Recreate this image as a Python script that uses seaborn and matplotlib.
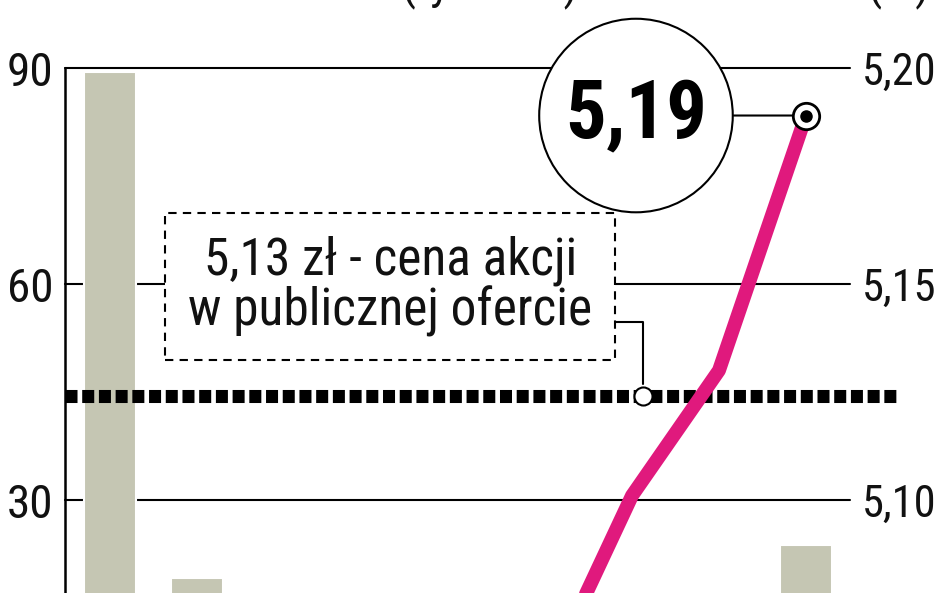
import matplotlib
matplotlib.use("Agg")
import matplotlib.pyplot as plt
import seaborn as sns
import pandas as pd
from matplotlib import font_manager

# ---------------- data ----------------
sessions = list(range(9))
volume = [89.4, 19.2, 9.0, 7.0, 6.0, 8.0, 10.0, 12.0, 23.7]      # tys. szt.
price_sessions = [5, 6, 7, 8]
price = [5.058, 5.101, 5.130, 5.189]                              # zł
ipo_price = 5.124
ipo_marker_session = 6.13
last_price_label = "5,19"
left_ticks = [30, 60, 90]
left_tick_labels = ["30", "60", "90"]
right_ticks = [5.10, 5.15, 5.20]
right_tick_labels = ["5,10", "5,15", "5,20"]
ipo_text = "5,13 zł - cena akcji\nw publicznej ofercie"
left_title = "Wolumen obrotu (tys. szt.)"
right_title = "Kurs (zł)"

# ---------------- style ----------------
def pick(names):
    for n in names:
        try:
            font_manager.findfont(font_manager.FontProperties(family=n),
                                  fallback_to_default=False)
            return n
        except Exception:
            pass
    return "DejaVu Sans"

sns.set_theme(style="white")
narrow = pick(["Liberation Sans Narrow", "Roboto Condensed", "DejaVu Sans"])
plt.rcParams["font.family"] = [narrow, "DejaVu Sans"]

BAR = "#c5c6b3"
PINK = "#e0197d"
W, H = 948, 593

fig = plt.figure(figsize=(W / 100, H / 100), dpi=100)
fig.patch.set_facecolor("white")
ax = fig.add_axes([65 / W, 0, (850 - 65) / W, (H - 68) / H])

df = pd.DataFrame({"session": sessions, "volume": volume})
sns.barplot(data=df, x="session", y="volume", color=BAR, saturation=1,
            width=0.6, edgecolor="white", linewidth=1.5, ax=ax, zorder=2)

for t in left_ticks:
    ax.axhline(t, color="black", lw=1.5, zorder=1, clip_on=False)

ax.set_ylim(90 - 525 / 7.2, 90)
ax.set_yticks(left_ticks, left_tick_labels)
ax.set_xticks([])
ax.set_xlabel("")
ax.set_ylabel("")
ax.tick_params(axis="y", length=0, pad=8.5, labelsize=34, labelcolor="#111111")
ax.grid(False)
for s in ["top", "right", "bottom"]:
    ax.spines[s].set_visible(False)
ax.spines["left"].set_color("black")
ax.spines["left"].set_linewidth(1.8)

ax2 = ax.twinx()
ax2.set_ylim(5.20 - 525 / 4320, 5.20)
ax2.set_yticks(right_ticks, right_tick_labels)
ax2.tick_params(axis="y", length=0, pad=8.5, labelsize=32, labelcolor="#111111")
ax2.grid(False)
for s in ax2.spines.values():
    s.set_visible(False)

# IPO price dotted line
ax2.axhline(ipo_price, xmin=0, xmax=(900 - 65) / (850 - 65), color="black",
            lw=9.4, linestyle=(0, (0.92, 0.36)), dash_capstyle="butt",
            clip_on=False, zorder=3)

# price line
sns.lineplot(x=price_sessions, y=price, ax=ax2, color=PINK, lw=10, zorder=5,
             solid_joinstyle="round", solid_capstyle="round")

ax.set_xlim(-0.517, 8.506)

# end marker
ax2.plot(price_sessions[-1], price[-1], "o", ms=19, mfc="white", mec="black",
         mew=2, zorder=7, clip_on=False)
ax2.plot(price_sessions[-1], price[-1], "o", ms=8, color="black", zorder=8,
         clip_on=False)

# circle annotation with last price
ax2.annotate(last_price_label, xy=(price_sessions[-1], price[-1]),
             xytext=(-170, 0), textcoords="offset pixels",
             ha="center", va="center", fontsize=58, fontweight="bold",
             color="black",
             bbox=dict(boxstyle="circle,pad=0.32", fc="white", ec="black", lw=1.5),
             arrowprops=dict(arrowstyle="-", color="black", lw=1.5,
                             shrinkA=0, shrinkB=10),
             zorder=6, annotation_clip=False)

# IPO callout
ax2.plot(ipo_marker_session, ipo_price, "o", ms=13, mfc="white", mec="black",
         mew=1.5, zorder=7)
ax2.annotate(ipo_text, xy=(ipo_marker_session, ipo_price),
             xytext=(-253, 110), textcoords="offset pixels",
             ha="center", va="center", fontsize=37, linespacing=0.98,
             color="#111111",
             bbox=dict(boxstyle="square,pad=0.45", fc="white", ec="black",
                       lw=1.5, ls=(0, (4, 3))),
             arrowprops=dict(arrowstyle="-", color="black", lw=1.5,
                             connectionstyle="angle,angleA=0,angleB=90,rad=0",
                             relpos=(1, 0.15), shrinkA=0, shrinkB=9),
             zorder=6)

# titles (cut off at the top edge as in the original)
fig.text(83 / W, 1 + 2 / H, left_title, fontsize=34, ha="left", va="baseline",
         color="#111111")
fig.text(930 / W, 1 + 2 / H, right_title, fontsize=34, ha="right", va="baseline",
         color="#111111")

fig.savefig("out.png", dpi=100)
